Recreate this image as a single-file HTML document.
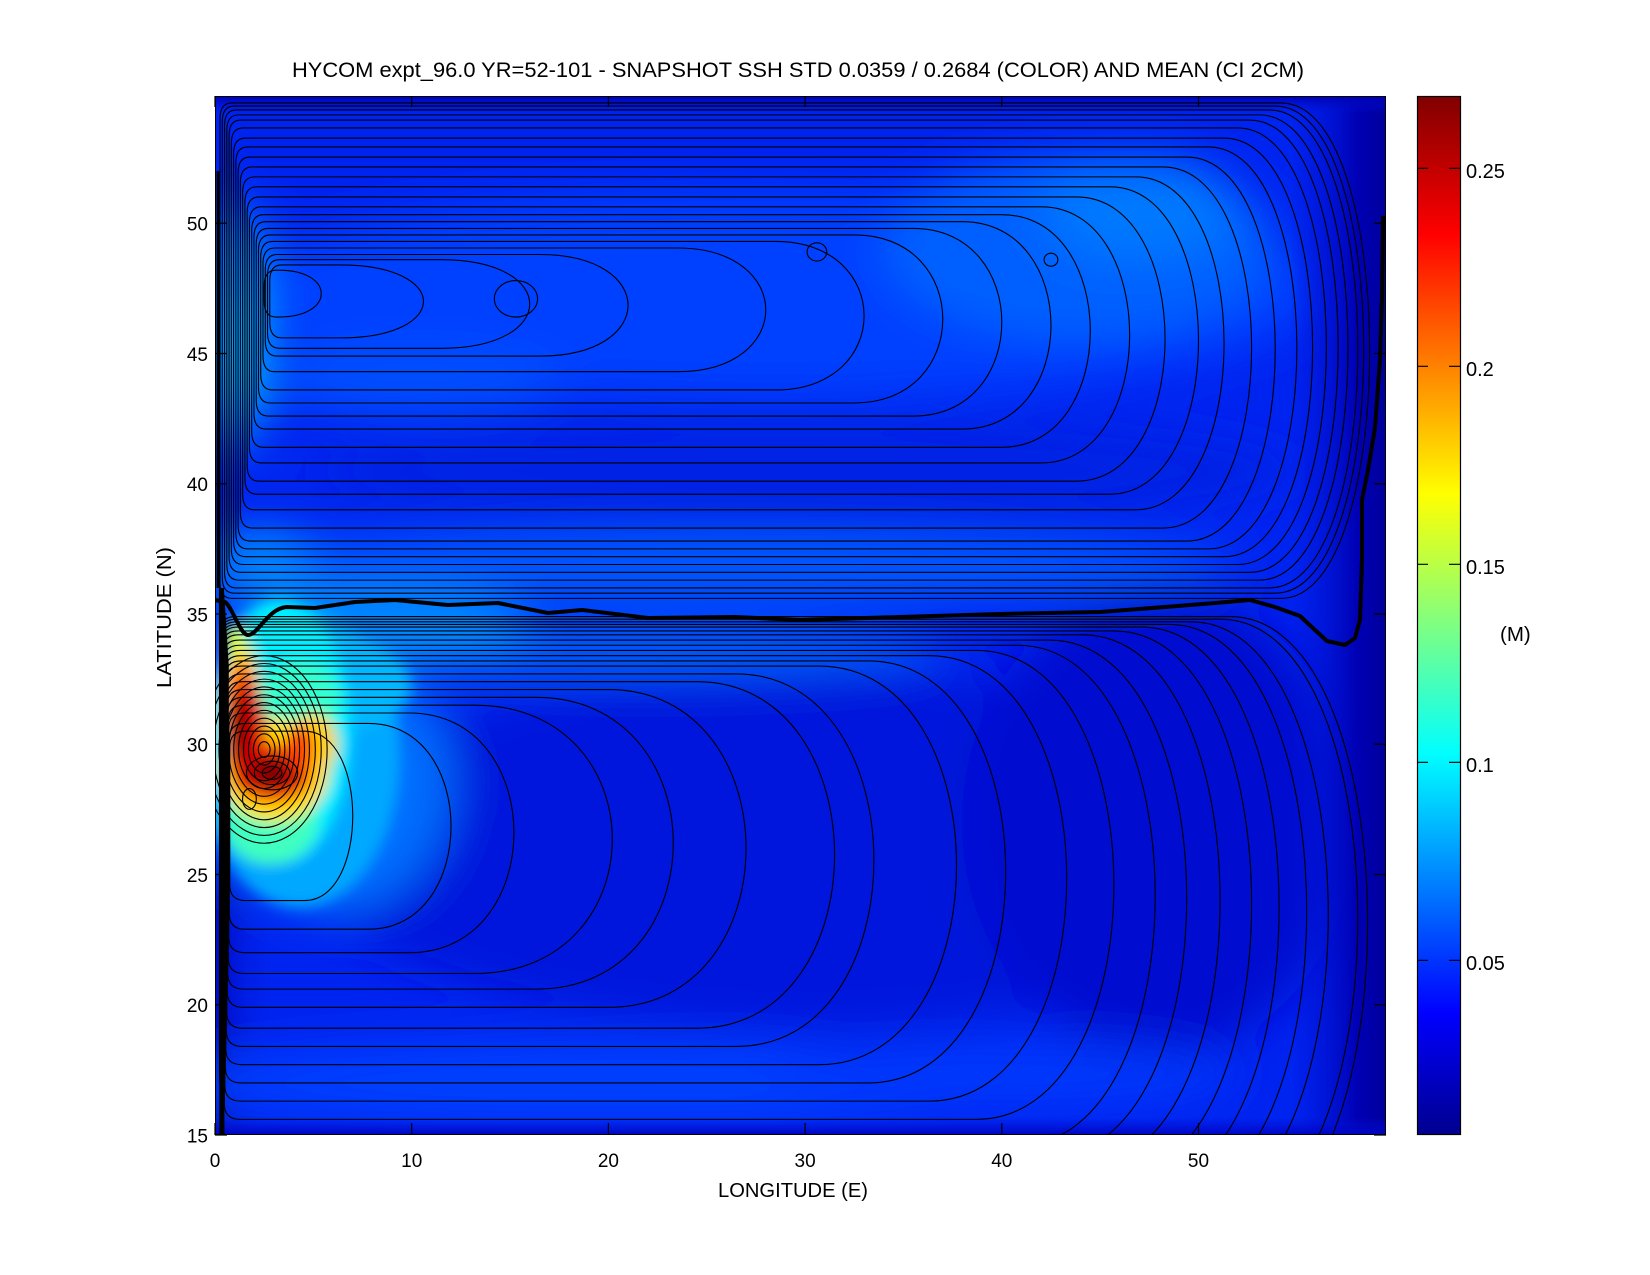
<!DOCTYPE html>
<html><head><meta charset="utf-8"><style>
html,body{margin:0;padding:0;background:#fff;overflow:hidden}
svg{display:block}
.c path,.c ellipse{fill:none;stroke:#000;stroke-width:1.1;vector-effect:non-scaling-stroke}
text{font-family:"Liberation Sans",Arial,sans-serif;fill:#000}
</style></head><body>
<svg width="1650" height="1275" viewBox="0 0 1650 1275" xmlns="http://www.w3.org/2000/svg">
<defs>
<clipPath id="pc"><rect x="215" y="96" width="1171" height="1039"/></clipPath>
<filter id="b1" filterUnits="userSpaceOnUse" x="0" y="0" width="1650" height="1275"><feGaussianBlur stdDeviation="24 22"/></filter>
<filter id="b2" filterUnits="userSpaceOnUse" x="0" y="0" width="1650" height="1275"><feGaussianBlur stdDeviation="7 7"/></filter>
<linearGradient id="ge" x1="0" y1="0" x2="1" y2="0">
<stop offset="0" stop-color="#0014d8" stop-opacity="0"/>
<stop offset="0.35" stop-color="#0010d0" stop-opacity="0.7"/>
<stop offset="0.7" stop-color="#0000b4"/>
<stop offset="1" stop-color="#00009c"/>
</linearGradient>
<linearGradient id="gt" x1="0" y1="0" x2="0" y2="1">
<stop offset="0" stop-color="#0000b0"/>
<stop offset="1" stop-color="#0010d8" stop-opacity="0"/>
</linearGradient>
<linearGradient id="gb" x1="0" y1="0" x2="0" y2="1">
<stop offset="0" stop-color="#0010d8" stop-opacity="0"/>
<stop offset="1" stop-color="#0004c0"/>
</linearGradient>
<linearGradient id="jet" x1="0" y1="1" x2="0" y2="0">
<stop offset="0" stop-color="#00008F"/>
<stop offset="0.117" stop-color="#0000FF"/>
<stop offset="0.367" stop-color="#00FFFF"/>
<stop offset="0.492" stop-color="#80FF80"/>
<stop offset="0.617" stop-color="#FFFF00"/>
<stop offset="0.867" stop-color="#FF0000"/>
<stop offset="1" stop-color="#800000"/>
</linearGradient>
</defs>
<rect x="0" y="0" width="1650" height="1275" fill="#fff"/>
<text x="798" y="77" text-anchor="middle" font-size="21.5" textLength="1012" lengthAdjust="spacingAndGlyphs">HYCOM expt_96.0 YR=52-101 - SNAPSHOT SSH STD 0.0359 / 0.2684 (COLOR) AND MEAN (CI 2CM)</text>
<g clip-path="url(#pc)">
<rect x="215" y="96" width="1171" height="1039" fill="#0024f0"/>
<g filter="url(#b1)">
<rect x="0" y="874" width="225" height="400" fill="#0000b0"/>
<ellipse cx="805" cy="848" rx="511" ry="182" fill="#0014dc"/>
<ellipse cx="1159" cy="822" rx="197" ry="234" fill="#000cd0"/>
<ellipse cx="608" cy="1083" rx="433" ry="42" fill="#0040ff"/>
<ellipse cx="1002" cy="1075" rx="236" ry="34" fill="#0038fc"/>
<ellipse cx="766" cy="296" rx="551" ry="104" fill="#0040ff"/>
<ellipse cx="1080" cy="249" rx="197" ry="91" fill="#0060ff"/>
<ellipse cx="1140" cy="210" rx="98" ry="52" fill="#0078ff"/>
<ellipse cx="412" cy="380" rx="157" ry="34" fill="#0050ff"/>
<ellipse cx="805" cy="471" rx="492" ry="52" fill="#0020e4"/>
<ellipse cx="707" cy="567" rx="531" ry="36" fill="#0058ff"/>
<ellipse cx="608" cy="650" rx="340" ry="25" fill="#0060ff"/>
<ellipse cx="372" cy="627" rx="157" ry="39" fill="#0088ff"/>
<ellipse cx="235" cy="327" rx="24" ry="130" fill="#00a0ff"/>
<ellipse cx="233" cy="367" rx="12" ry="65" fill="#00e0ff"/>
<ellipse cx="333" cy="783" rx="118" ry="130" fill="#0070ff"/>
<ellipse cx="260" cy="560" rx="50" ry="30" fill="#0090ff"/>
</g>
<rect x="1290" y="96" width="96" height="1039" fill="url(#ge)"/>
<rect x="215" y="96" width="1171" height="18" fill="url(#gt)"/>
<rect x="215" y="1117" width="1171" height="18" fill="url(#gb)"/>
<g filter="url(#b2)">
<ellipse cx="300" cy="757" rx="100" ry="150" fill="#00a8ff"/>
<ellipse cx="313" cy="685" rx="98" ry="52" fill="#00b8ff"/>
<ellipse cx="280" cy="731" rx="70" ry="132" fill="#00f0ff"/>
<ellipse cx="270" cy="822" rx="47" ry="42" fill="#40ffc0"/>
<ellipse cx="300" cy="700" rx="40" ry="40" fill="#30ffd0"/>
<ellipse cx="274" cy="770" rx="55" ry="52" fill="#ffe000"/>
<ellipse cx="241" cy="718" rx="20" ry="78" fill="#ffe000"/>
<ellipse cx="313" cy="744" rx="24" ry="31" fill="#ffd000"/>
<ellipse cx="235" cy="640" rx="10" ry="16" fill="#e0ff20"/>
<ellipse cx="272" cy="773" rx="41" ry="31" fill="#ff7000"/>
<ellipse cx="242" cy="723" rx="18" ry="63" fill="#ff7000"/>
<ellipse cx="246" cy="736" rx="20" ry="55" fill="#e00000"/>
<ellipse cx="274" cy="773" rx="31" ry="22" fill="#d00000"/>
<ellipse cx="300" cy="749" rx="14" ry="23" fill="#ff4000"/>
<ellipse cx="240" cy="729" rx="8" ry="34" fill="#900000"/>
<ellipse cx="270" cy="773" rx="18" ry="12" fill="#800000"/>
</g>
<g transform="translate(215,1525.75) scale(19.67,-26.05)">
<g class="c">
<path d="M2.5,47.6 Q2.5,48.2 3.1,48.2 L3.24,48.2 C6.12,48.2 6.12,46.4 3.24,46.4 L3.1,46.4 Q2.5,46.4 2.5,47 Z"/>
<path d="M2.785,47.8 Q2.785,48.4 3.385,48.4 L6.36,48.4 C12.01,48.4 12.01,45.6 6.36,45.6 L3.385,45.6 Q2.785,45.6 2.785,46.2 Z"/>
<path d="M2.67,48 Q2.67,48.6 3.27,48.6 L11.5,48.6 C17.5,48.6 17.5,45.2 11.5,45.2 L3.27,45.2 Q2.67,45.2 2.67,45.8 Z"/>
<path d="M2.555,48.2 Q2.555,48.8 3.155,48.8 L16.5,48.8 C22.5,48.8 22.5,44.9 16.5,44.9 L3.155,44.9 Q2.555,44.9 2.555,45.5 Z"/>
<path d="M2.44,48.45 Q2.44,49.05 3.04,49.05 L23.5,49.05 C29.5,49.05 29.5,44.3 23.5,44.3 L3.04,44.3 Q2.44,44.3 2.44,44.9 Z"/>
<path d="M2.325,48.7 Q2.325,49.3 2.925,49.3 L28.5,49.3 C34.5,49.3 34.5,43.6 28.5,43.6 L2.925,43.6 Q2.325,43.6 2.325,44.2 Z"/>
<path d="M2.21,48.95 Q2.21,49.55 2.81,49.55 L32.5,49.55 C38.5,49.55 38.5,43.1 32.5,43.1 L2.81,43.1 Q2.21,43.1 2.21,43.7 Z"/>
<path d="M2.095,49.2 Q2.095,49.8 2.695,49.8 L35.5,49.8 C41.5,49.8 41.5,42.6 35.5,42.6 L2.695,42.6 Q2.095,42.6 2.095,43.2 Z"/>
<path d="M1.98,49.46 Q1.98,50.06 2.58,50.06 L38,50.06 C44,50.06 44,42.1 38,42.1 L2.58,42.1 Q1.98,42.1 1.98,42.7 Z"/>
<path d="M1.865,49.73 Q1.865,50.33 2.465,50.33 L40,50.33 C46,50.33 46,41.4 40,41.4 L2.465,41.4 Q1.865,41.4 1.865,42 Z"/>
<path d="M1.75,50.03 Q1.75,50.63 2.35,50.63 L42,50.63 C48,50.63 48,40.8 42,40.8 L2.35,40.8 Q1.75,40.8 1.75,41.4 Z"/>
<path d="M1.635,50.41 Q1.635,51.01 2.235,51.01 L43.8,51.01 C49.8,51.01 49.8,40.1 43.8,40.1 L2.235,40.1 Q1.635,40.1 1.635,40.7 Z"/>
<path d="M1.52,50.8 Q1.52,51.4 2.12,51.4 L45.5,51.4 C51.5,51.4 51.5,39.6 45.5,39.6 L2.12,39.6 Q1.52,39.6 1.52,40.2 Z"/>
<path d="M1.405,51.18 Q1.405,51.78 2.005,51.78 L46.8,51.78 C52.8,51.78 52.8,39 46.8,39 L2.005,39 Q1.405,39 1.405,39.6 Z"/>
<path d="M1.29,51.56 Q1.29,52.16 1.89,52.16 L48.2,52.16 C54.2,52.16 54.2,38.3 48.2,38.3 L1.89,38.3 Q1.29,38.3 1.29,38.9 Z"/>
<path d="M1.175,51.94 Q1.175,52.54 1.775,52.54 L49.4,52.54 C55.4,52.54 55.4,37.8 49.4,37.8 L1.775,37.8 Q1.175,37.8 1.175,38.4 Z"/>
<path d="M1.06,52.33 Q1.06,52.93 1.66,52.93 L50.5,52.93 C56.5,52.93 56.5,37.5 50.5,37.5 L1.66,37.5 Q1.06,37.5 1.06,38.1 Z"/>
<path d="M0.945,52.67 Q0.945,53.27 1.545,53.27 L51.3,53.27 C57.3,53.27 57.3,37.2 51.3,37.2 L1.545,37.2 Q0.945,37.2 0.945,37.8 Z"/>
<path d="M0.83,53.06 Q0.83,53.66 1.43,53.66 L52,53.66 C58,53.66 58,36.9 52,36.9 L1.43,36.9 Q0.83,36.9 0.83,37.5 Z"/>
<path d="M0.715,53.36 Q0.715,53.96 1.315,53.96 L52.6,53.96 C58.6,53.96 58.6,36.6 52.6,36.6 L1.315,36.6 Q0.715,36.6 0.715,37.2 Z"/>
<path d="M0.6,53.56 Q0.6,54.16 1.2,54.16 L53.1,54.16 C59.1,54.16 59.1,36.3 53.1,36.3 L1.2,36.3 Q0.6,36.3 0.6,36.9 Z"/>
<path d="M0.485,53.75 Q0.485,54.35 1.085,54.35 L53.6,54.35 C59.6,54.35 59.6,36 53.6,36 L1.085,36 Q0.485,36 0.485,36.6 Z"/>
<path d="M0.37,53.9 Q0.37,54.5 0.97,54.5 L53.9,54.5 C59.9,54.5 59.9,35.8 53.9,35.8 L0.97,35.8 Q0.37,35.8 0.37,36.4 Z"/>
<path d="M0.255,54.02 Q0.255,54.62 0.855,54.62 L54.2,54.62 C60.2,54.62 60.2,35.6 54.2,35.6 L0.855,35.6 Q0.255,35.6 0.255,36.2 Z"/>
<path d="M0.75,29.9 Q0.75,30.5 1.55,30.5 L4.55,30.5 C7.82,30.5 7.82,24 4.55,24 L1.55,24 Q0.75,24 0.75,24.6 Z"/>
<path d="M0.725,30.2 Q0.725,30.8 1.525,30.8 L7.8,30.8 C13.4,30.8 13.4,22.9 7.8,22.9 L1.525,22.9 Q0.725,22.9 0.725,23.5 Z"/>
<path d="M0.7,30.6 Q0.7,31.2 1.5,31.2 L9.88,31.2 C16.97,31.2 16.97,22 9.88,22 L1.5,22 Q0.7,22 0.7,22.6 Z"/>
<path d="M0.675,30.9 Q0.675,31.5 1.475,31.5 L13.2,31.5 C22.53,31.5 22.53,21.2 13.2,21.2 L1.475,21.2 Q0.675,21.2 0.675,21.8 Z"/>
<path d="M0.65,31.2 Q0.65,31.8 1.45,31.8 L16.3,31.8 C25.63,31.8 25.63,20.6 16.3,20.6 L1.45,20.6 Q0.65,20.6 0.65,21.2 Z"/>
<path d="M0.625,31.5 Q0.625,32.1 1.425,32.1 L20,32.1 C29.33,32.1 29.33,19.9 20,19.9 L1.425,19.9 Q0.625,19.9 0.625,20.5 Z"/>
<path d="M0.6,31.8 Q0.6,32.4 1.4,32.4 L24.5,32.4 C33.83,32.4 33.83,19.1 24.5,19.1 L1.4,19.1 Q0.6,19.1 0.6,19.7 Z"/>
<path d="M0.575,32.1 Q0.575,32.7 1.375,32.7 L26.5,32.7 C35.83,32.7 35.83,18.4 26.5,18.4 L1.375,18.4 Q0.575,18.4 0.575,19 Z"/>
<path d="M0.55,32.4 Q0.55,33 1.35,33 L30.7,33 C40.03,33 40.03,17.7 30.7,17.7 L1.35,17.7 Q0.55,17.7 0.55,18.3 Z"/>
<path d="M0.525,32.6 Q0.525,33.2 1.325,33.2 L33.2,33.2 C42.53,33.2 42.53,17 33.2,17 L1.325,17 Q0.525,17 0.525,17.6 Z"/>
<path d="M0.5,32.8 Q0.5,33.4 1.3,33.4 L36.3,33.4 C45.63,33.4 45.63,16.3 36.3,16.3 L1.3,16.3 Q0.5,16.3 0.5,16.9 Z"/>
<path d="M0.475,33 Q0.475,33.6 1.275,33.6 L38.7,33.6 C48.03,33.6 48.03,15.6 38.7,15.6 L1.275,15.6 Q0.475,15.6 0.475,16.2 Z"/>
<path d="M0.45,33.2 Q0.45,33.8 1.25,33.8 L40.8,33.8 C50.13,33.8 50.13,14.6 40.8,14.6 L1.25,14.6 Q0.45,14.6 0.45,15.2 Z"/>
<path d="M0.425,33.4 Q0.425,34 1.225,34 L42.4,34 C51.73,34 51.73,14.2 42.4,14.2 L1.225,14.2 Q0.425,14.2 0.425,14.8 Z"/>
<path d="M0.4,33.6 Q0.4,34.2 1.2,34.2 L44.1,34.2 C53.43,34.2 53.43,13.8 44.1,13.8 L1.2,13.8 Q0.4,13.8 0.4,14.4 Z"/>
<path d="M0.375,33.75 Q0.375,34.35 1.175,34.35 L45.7,34.35 C55.03,34.35 55.03,13.4 45.7,13.4 L1.175,13.4 Q0.375,13.4 0.375,14 Z"/>
<path d="M0.35,33.9 Q0.35,34.5 1.15,34.5 L47.1,34.5 C56.43,34.5 56.43,13 47.1,13 L1.15,13 Q0.35,13 0.35,13.6 Z"/>
<path d="M0.325,34 Q0.325,34.6 1.125,34.6 L48.5,34.6 C57.83,34.6 57.83,12.6 48.5,12.6 L1.125,12.6 Q0.325,12.6 0.325,13.2 Z"/>
<path d="M0.3,34.1 Q0.3,34.7 1.1,34.7 L49.6,34.7 C58.93,34.7 58.93,12.2 49.6,12.2 L1.1,12.2 Q0.3,12.2 0.3,12.8 Z"/>
<path d="M0.275,34.2 Q0.275,34.8 1.075,34.8 L51.1,34.8 C60.43,34.8 60.43,11.8 51.1,11.8 L1.075,11.8 Q0.275,11.8 0.275,12.4 Z"/>
<path d="M0.25,34.3 Q0.25,34.9 1.05,34.9 L51.6,34.9 C60.93,34.9 60.93,11.4 51.6,11.4 L1.05,11.4 Q0.25,11.4 0.25,12 Z"/>
<ellipse cx="2.5" cy="29.8" rx="0.3" ry="0.3"/>
<ellipse cx="2.5" cy="29.8" rx="0.55" ry="0.6"/>
<ellipse cx="2.5" cy="29.8" rx="0.8" ry="0.9"/>
<ellipse cx="2.5" cy="29.8" rx="1.05" ry="1.2"/>
<ellipse cx="2.5" cy="29.8" rx="1.3" ry="1.5"/>
<ellipse cx="2.5" cy="29.8" rx="1.55" ry="1.8"/>
<ellipse cx="2.5" cy="29.8" rx="1.8" ry="2.1"/>
<ellipse cx="2.5" cy="29.8" rx="2.05" ry="2.4"/>
<ellipse cx="2.5" cy="29.8" rx="2.3" ry="2.7"/>
<ellipse cx="2.5" cy="29.8" rx="2.6" ry="3.0"/>
<ellipse cx="2.5" cy="29.8" rx="2.9" ry="3.3"/>
<ellipse cx="2.5" cy="29.8" rx="3.2" ry="3.6"/>
<ellipse cx="2.9" cy="28.9" rx="0.5" ry="0.25"/>
<ellipse cx="2.9" cy="28.9" rx="0.9" ry="0.45"/>
<ellipse cx="2.9" cy="28.9" rx="1.3" ry="0.65"/>
<ellipse cx="1.75" cy="27.9" rx="0.35" ry="0.4"/>
<ellipse cx="15.3" cy="47.1" rx="1.1" ry="0.7"/>
<ellipse cx="42.5" cy="48.6" rx="0.35" ry="0.25"/>
<ellipse cx="30.6" cy="48.9" rx="0.5" ry="0.35"/>
</g>
<polygon points="0.2,36 0.45,36 0.7,33 0.7,23 0.45,19 0.2,17" fill="#000"/>
<polygon points="0.08,52 0.22,52 0.25,36 0.08,36" fill="#000"/>
</g>
<path d="M215,600 L225,602 C232,606 240,635 248,635 C258,635 268,608 287,607 L315,608 L355,602 L395,600 L448,605 L498,603 L548,613 L582,610 L648,618 L735,617 L800,620 L900,617 L1000,614 L1100,612 L1165,607 L1215,603 L1250,600 L1275,607 L1300,616 L1315,630 L1327,641 L1345,645 L1355,638 L1360,620 L1362,560 L1362,500 L1368,470 L1375,428 L1380,360 L1382,295 L1383,216" fill="none" stroke="#000" stroke-width="4" stroke-linejoin="round"/>
</g>
<rect x="215.5" y="96.5" width="1170" height="1038" fill="none" stroke="#000" stroke-width="1"/>
<path d="M215,1135v-12M411.7,1135v-12M608.4,1135v-12M805.1,1135v-12M1001.8,1135v-12M1198.5,1135v-12M215,96v11M411.7,96v11M608.4,96v11M805.1,96v11M1001.8,96v11M1198.5,96v11M215,1135h12M215,1004.75h12M215,874.5h12M215,744.25h12M215,614h12M215,483.75h12M215,353.5h12M215,223.25h12M1386,1135h-12M1386,1004.75h-12M1386,874.5h-12M1386,744.25h-12M1386,614h-12M1386,483.75h-12M1386,353.5h-12M1386,223.25h-12" stroke="#000" stroke-width="1.2" fill="none"/>
<g font-size="19">
<text x="215" y="1167" text-anchor="middle">0</text>
<text x="411.7" y="1167" text-anchor="middle">10</text>
<text x="608.4" y="1167" text-anchor="middle">20</text>
<text x="805.1" y="1167" text-anchor="middle">30</text>
<text x="1001.8" y="1167" text-anchor="middle">40</text>
<text x="1198.5" y="1167" text-anchor="middle">50</text>
<text x="208" y="1142.5" text-anchor="end">15</text>
<text x="208" y="1012.2" text-anchor="end">20</text>
<text x="208" y="882" text-anchor="end">25</text>
<text x="208" y="751.7" text-anchor="end">30</text>
<text x="208" y="621.5" text-anchor="end">35</text>
<text x="208" y="491.2" text-anchor="end">40</text>
<text x="208" y="361" text-anchor="end">45</text>
<text x="208" y="230.7" text-anchor="end">50</text>
</g>
<text x="793" y="1197" text-anchor="middle" font-size="20.5" textLength="150" lengthAdjust="spacingAndGlyphs">LONGITUDE (E)</text>
<text transform="translate(171,617.5) rotate(-90)" text-anchor="middle" font-size="20.5" textLength="141" lengthAdjust="spacingAndGlyphs">LATITUDE (N)</text>
<rect x="1417" y="96" width="43" height="1039" fill="url(#jet)"/>
<rect x="1417.5" y="96.5" width="43" height="1038" fill="none" stroke="#000" stroke-width="1.2"/>
<path d="M1417,960.3h11M1449,960.3h11M1417,762.3h11M1449,762.3h11M1417,564.3h11M1449,564.3h11M1417,366.3h11M1449,366.3h11M1417,168.3h11M1449,168.3h11" stroke="#000" stroke-width="1.2" fill="none"/>
<g font-size="20">
<text x="1466" y="969.8">0.05</text>
<text x="1466" y="771.8">0.1</text>
<text x="1466" y="573.8">0.15</text>
<text x="1466" y="375.8">0.2</text>
<text x="1466" y="177.8">0.25</text>
</g>
<text x="1500" y="641" font-size="20.5">(M)</text>
</svg>
</body></html>
